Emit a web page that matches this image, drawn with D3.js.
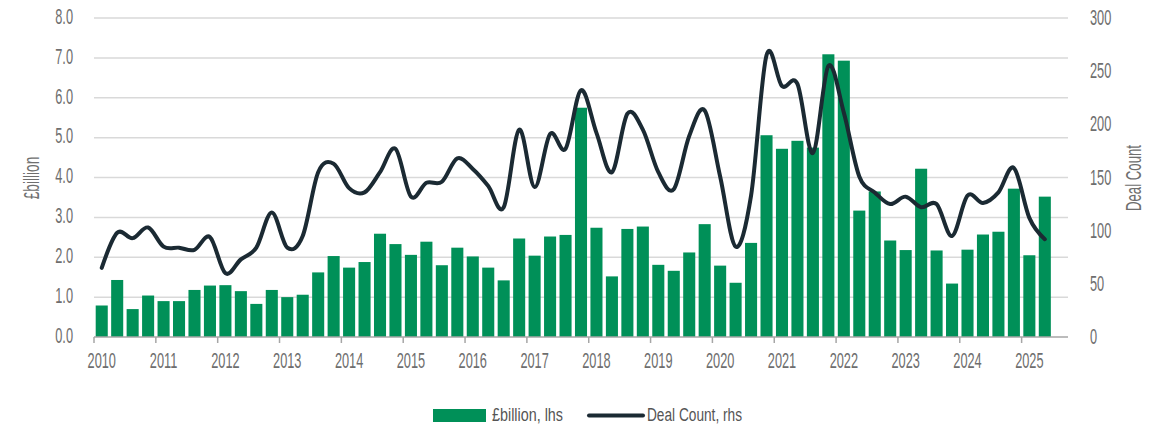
<!DOCTYPE html>
<html>
<head>
<meta charset="utf-8">
<script src="https://cdn.jsdelivr.net/npm/d3@7"></script>
<style>
  html, body { margin: 0; padding: 0; background: #ffffff; }
  svg { display: block; font-family: "Liberation Sans", Arial, sans-serif; }
</style>
</head>
<body>
<svg id="chart" width="1165" height="425"></svg>
<script>
// Quarterly series, 2010 Q1 – 2025 Q2
const years = d3.range(2010, 2026);
const quarters = years.flatMap(y => ["Q1", "Q2", "Q3", "Q4"].map(q => `${y} ${q}`)).slice(0, 62);

// Value of deals, £ billion (left axis)
const billions = [
  0.79, 1.43, 0.70, 1.04,
  0.90, 0.90, 1.18, 1.29,
  1.30, 1.15, 0.83, 1.18,
  1.00, 1.06, 1.62, 2.03,
  1.74, 1.88, 2.59, 2.33,
  2.06, 2.39, 1.80, 2.24,
  2.02, 1.74, 1.42, 2.47,
  2.04, 2.52, 2.56, 5.75,
  2.74, 1.52, 2.71, 2.77,
  1.81, 1.66, 2.12, 2.83,
  1.79, 1.36, 2.36, 5.06,
  4.72, 4.92, 4.75, 7.09,
  6.93, 3.17, 3.65, 2.42,
  2.18, 4.22, 2.17, 1.34,
  2.19, 2.57, 2.64, 3.72,
  2.05, 3.52
];

// Number of deals (right axis)
const dealCount = [
  65, 98, 93, 103,
  85, 84, 82, 94,
  60, 73, 84, 117,
  84, 95, 155, 163,
  140, 136, 155, 177,
  132, 145, 146, 168,
  158, 142, 122, 195,
  141, 191, 177, 232,
  192, 155, 210, 195,
  155, 139, 189, 213,
  151, 85, 133, 265,
  236, 238, 173, 255,
  211, 151, 136, 125,
  132, 122, 125, 95,
  133, 126, 136, 159,
  112, 92
];

const leftTicks = [0, 1, 2, 3, 4, 5, 6, 7, 8];
const rightTicks = [0, 50, 100, 150, 200, 250, 300];

// Layout
const plot = { left: 94, right: 1068, top: 18, bottom: 337 };
const slot = (plot.right - plot.left) / 63;
const GREEN = "#009058";
const NAVY = "#1b2a33";
const TEXT = "#6e6e6e";
const SX = 0.58; // horizontal squeeze for the condensed lettering

const svg = d3.select("#chart");

const x = d3.scaleBand()
  .domain(quarters)
  .range([plot.left, plot.left + slot * quarters.length])
  .paddingInner(0.22)
  .paddingOuter(0.11);

const yL = d3.scaleLinear().domain([0, 8]).range([plot.bottom, plot.top]);
const yR = d3.scaleLinear().domain([0, 300]).range([plot.bottom, plot.top]);

// Horizontal gridlines
svg.append("g")
  .selectAll("line")
  .data(leftTicks.slice(1))
  .join("line")
  .attr("x1", plot.left).attr("x2", plot.right)
  .attr("y1", d => yL(d)).attr("y2", d => yL(d))
  .attr("stroke", "#d9d9d9").attr("stroke-width", 1.5);

// Bars
svg.append("g")
  .selectAll("rect")
  .data(billions)
  .join("rect")
  .attr("x", (d, i) => x(quarters[i]))
  .attr("width", x.bandwidth())
  .attr("y", d => yL(d))
  .attr("height", d => yL(0) - yL(d))
  .attr("fill", GREEN);

function styleTickText(sel) {
  sel.attr("transform", `scale(${SX},1)`)
    .attr("fill", TEXT)
    .style("font-size", "22px")
    .style("font-family", "Liberation Sans, Arial, sans-serif");
}

// Left axis
const gL = svg.append("g")
  .attr("transform", `translate(${plot.left},0)`)
  .call(d3.axisLeft(yL).tickValues(leftTicks).tickFormat(d3.format(".1f")).tickSize(0));
gL.select(".domain").remove();
gL.selectAll("text")
  .call(styleTickText)
  .attr("x", -21 / SX)
  .attr("dy", "0.24em");

// Right axis
const gR = svg.append("g")
  .attr("transform", `translate(${plot.right},0)`)
  .call(d3.axisRight(yR).tickValues(rightTicks).tickSize(0));
gR.select(".domain").remove();
gR.selectAll("text")
  .call(styleTickText)
  .attr("x", 22 / SX)
  .attr("dy", "0.3em");

// Bottom axis: labels under each year's first quarter, ticks on year boundaries
const q1 = quarters.filter(q => q.endsWith("Q1"));
const gX = svg.append("g")
  .attr("transform", `translate(0,${plot.bottom})`)
  .call(d3.axisBottom(x).tickValues(q1).tickFormat(d => d.slice(0, 4)).tickSize(6).tickPadding(9));
gX.select(".domain").remove();
gX.selectAll(".tick line")
  .attr("transform", `translate(${-x.step() / 2},0)`)
  .attr("stroke", "#a6a6a6").attr("stroke-width", 1.5);
gX.selectAll("text")
  .call(styleTickText)
  .attr("x", 0)
  .attr("dy", "0.74em");
svg.append("line")
  .attr("x1", plot.left).attr("x2", plot.right)
  .attr("y1", plot.bottom).attr("y2", plot.bottom)
  .attr("stroke", "#a6a6a6").attr("stroke-width", 1.5);

// Deal count line
const line = d3.line()
  .x((d, i) => x(quarters[i]) + x.bandwidth() / 2)
  .y(d => yR(d))
  .curve(d3.curveCardinal.tension(0));
svg.append("path")
  .datum(dealCount)
  .attr("d", line)
  .attr("fill", "none")
  .attr("stroke", NAVY)
  .attr("stroke-width", 4)
  .attr("stroke-linejoin", "round")
  .attr("stroke-linecap", "round");

// Axis titles
svg.append("text")
  .attr("transform", `translate(31,178) rotate(-90) scale(0.62,1)`)
  .attr("text-anchor", "middle")
  .attr("dy", "0.35em")
  .attr("fill", TEXT)
  .style("font-size", "22px")
  .text("£billion");
svg.append("text")
  .attr("transform", `translate(1133,178) rotate(-90) scale(0.6,1)`)
  .attr("text-anchor", "middle")
  .attr("dy", "0.35em")
  .attr("fill", TEXT)
  .style("font-size", "22px")
  .text("Deal Count");

// Legend
const legend = svg.append("g");
legend.append("rect")
  .attr("x", 433).attr("y", 409).attr("width", 53).attr("height", 13)
  .attr("fill", GREEN);
legend.append("text")
  .attr("x", 492).attr("y", 421)
  .attr("fill", "#555555")
  .style("font-size", "18px")
  .attr("textLength", 71).attr("lengthAdjust", "spacingAndGlyphs")
  .text("£billion, lhs");
legend.append("line")
  .attr("x1", 589).attr("x2", 643).attr("y1", 415.5).attr("y2", 415.5)
  .attr("stroke", NAVY).attr("stroke-width", 4).attr("stroke-linecap", "round");
legend.append("text")
  .attr("x", 647).attr("y", 421)
  .attr("fill", "#555555")
  .style("font-size", "18px")
  .attr("textLength", 95).attr("lengthAdjust", "spacingAndGlyphs")
  .text("Deal Count, rhs");
</script>
</body>
</html>
